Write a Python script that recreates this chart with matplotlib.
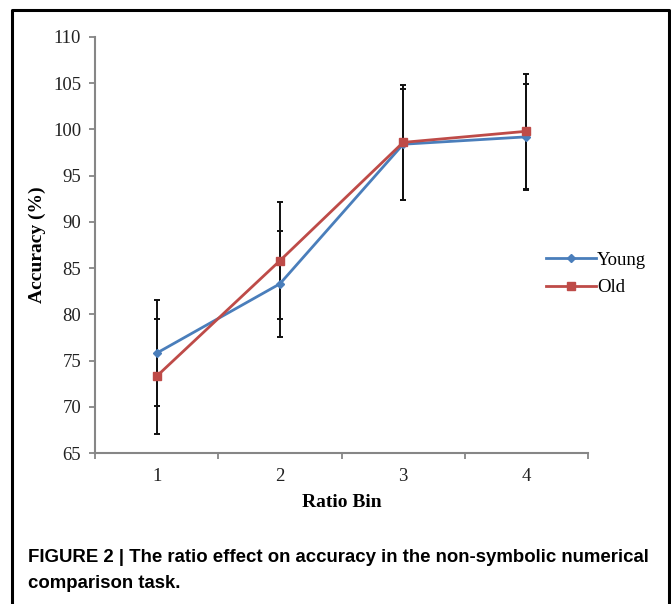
import matplotlib
matplotlib.use("Agg")
import matplotlib.pyplot as plt
from matplotlib.lines import Line2D
import numpy as np

# data
bins = [1, 2, 3, 4]
young = [75.8, 83.3, 98.4, 99.2]
young_err = [5.7, 5.7, 6.0, 5.7]
old = [73.3, 85.8, 98.6, 99.8]
old_err = [6.2, 6.3, 6.2, 6.2]
yticks = [65, 70, 75, 80, 85, 90, 95, 100, 105, 110]
caption = ["FIGURE 2 | The ratio effect on accuracy in the non-symbolic numerical",
           "comparison task."]

BLUE, RED, GRAY = "#4a7ebb", "#be4b48", "#868686"
serif = "Liberation Serif"

fig = plt.figure(figsize=(6.71, 6.04), dpi=100)
ax = fig.add_axes([95 / 671, 1 - 453 / 604, 493 / 671, 416 / 604])

ax.errorbar(bins, young, yerr=young_err, fmt="none", ecolor="#111111",
            elinewidth=1.4, capsize=2, capthick=1.4, zorder=2)
ax.errorbar(bins, old, yerr=old_err, fmt="none", ecolor="#111111",
            elinewidth=1.4, capsize=2, capthick=1.4, zorder=2)
ax.plot(bins, young, color=BLUE, lw=2.0, marker="D", ms=4.5, label="Young", zorder=3)
ax.plot(bins, old, color=RED, lw=2.0, marker="s", ms=6, label="Old", zorder=4)

ax.set_xlim(0.5, 4.5)
ax.set_ylim(65, 110)
ax.set_yticks(yticks)
ax.set_xticks(bins)
ax.set_xticks(np.arange(0.5, 4.6, 1.0), minor=True)
ax.tick_params(axis="x", which="major", length=0, pad=11)
ax.tick_params(axis="x", which="minor", length=4, width=1.3, color=GRAY)
ax.tick_params(axis="y", length=4, width=1.3, color=GRAY, pad=6)
for lab in ax.get_xticklabels() + ax.get_yticklabels():
    lab.set_fontfamily(serif)
    lab.set_fontsize(13.5)
    lab.set_color("#222222")
for s in ["top", "right"]:
    ax.spines[s].set_visible(False)
for s in ["left", "bottom"]:
    ax.spines[s].set_color(GRAY)
    ax.spines[s].set_linewidth(1.5)

ax.set_ylabel("Accuracy (%)", fontfamily=serif, fontweight="bold", fontsize=14, labelpad=5)
ax.set_xlabel("Ratio Bin", fontfamily=serif, fontweight="bold", fontsize=14, labelpad=6)

leg = ax.legend(loc="center left", bbox_to_anchor=(0.88, 0.43), frameon=False,
                prop={"family": serif, "size": 13.5}, handlelength=2.7,
                handletextpad=0.05, labelspacing=0.55)

# caption
fig.text(28 / 671, 1 - 557 / 604, caption[0], fontfamily="Liberation Sans",
         fontweight="bold", fontsize=13.4, va="center", ha="left")
fig.text(28 / 671, 1 - 584 / 604, caption[1], fontfamily="Liberation Sans",
         fontweight="bold", fontsize=13.4, va="center", ha="left")

# frame round the figure (open at the bottom)
xl, xr, yt = 11.5 / 671, 668.5 / 671, 1 - 9.5 / 604
fig.add_artist(Line2D([xl, xl, xr, xr], [0, yt, yt, 0], color="black", lw=2.2,
                      transform=fig.transFigure))

fig.savefig("out.png", dpi=100)
